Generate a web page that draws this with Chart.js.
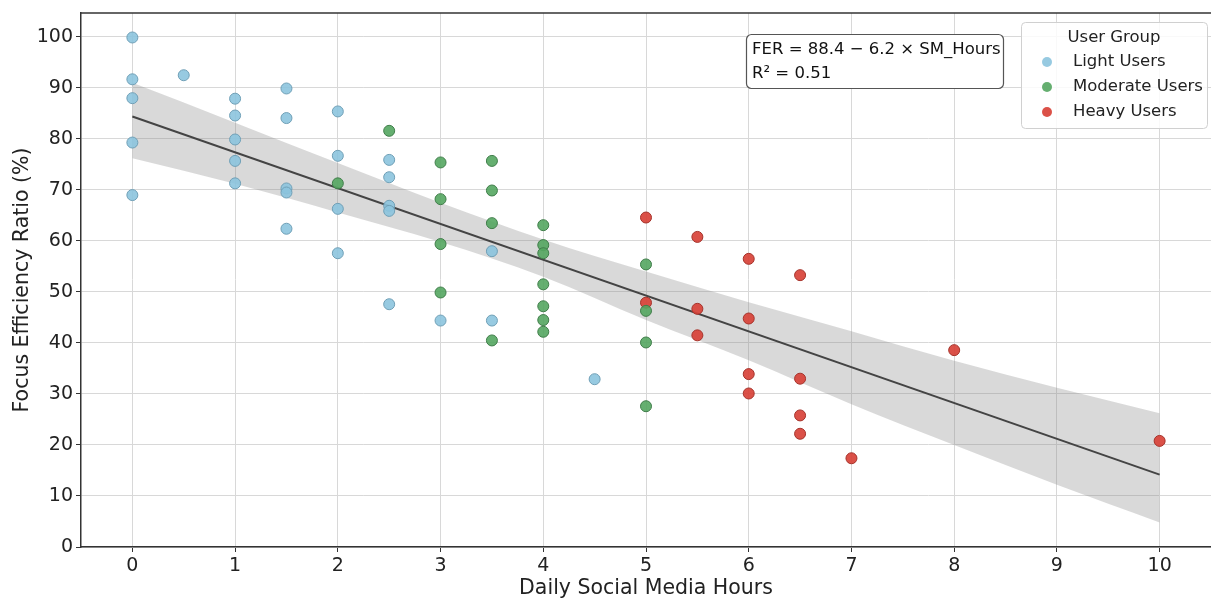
<!DOCTYPE html>
<html>
<head>
<meta charset="utf-8">
<script src="https://cdn.jsdelivr.net/npm/chart.js@4/dist/chart.umd.min.js"></script>
<style>
  html, body { margin: 0; padding: 0; background: #ffffff; }
  #wrap { position: relative; width: 1211px; height: 603px; }
</style>
</head>
<body>
<div id="wrap"><canvas id="chart"></canvas></div>
<script>
// x tick range and labels
const xTicks = [0, 1, 2, 3, 4, 5, 6, 7, 8, 9, 10];
const yTicks = [0, 10, 20, 30, 40, 50, 60, 70, 80, 90, 100];

// Light users
const lightHours = [0, 0, 0, 0, 0, 0.5, 1, 1, 1, 1, 1, 1.5, 1.5, 1.5, 1.5, 1.5, 2, 2, 2, 2, 2.5, 2.5, 2.5, 2.5, 2.5, 3, 3.5, 3.5, 4.5];
const lightFer   = [99.9, 91.7, 88.0, 79.3, 69.0, 92.5, 87.9, 84.6, 79.9, 75.7, 71.3, 89.9, 84.1, 70.3, 69.5, 62.4, 85.4, 76.7, 66.3, 57.6, 75.9, 72.5, 66.9, 65.9, 47.6, 44.4, 58.0, 44.4, 32.9];

// Moderate users
const moderateHours = [2, 2.5, 3, 3, 3, 3, 3.5, 3.5, 3.5, 3.5, 4, 4, 4, 4, 4, 4, 4, 5, 5, 5, 5];
const moderateFer   = [71.3, 81.6, 75.4, 68.2, 59.4, 49.9, 75.7, 69.9, 63.5, 40.5, 63.1, 59.2, 57.6, 51.5, 47.2, 44.5, 42.2, 55.4, 46.3, 40.1, 27.6];

// Heavy users
const heavyHours = [5, 5, 5.5, 5.5, 5.5, 6, 6, 6, 6, 6.5, 6.5, 6.5, 6.5, 7, 8, 10];
const heavyFer   = [64.6, 47.9, 60.8, 46.7, 41.5, 56.5, 44.8, 33.9, 30.1, 53.3, 33.0, 25.8, 22.2, 17.4, 38.6, 20.8];

// fitted line and confidence band
const fitHours = [0, 10];
const fitFer = [84.4, 14.2];
const bandHours = [0, 1, 2, 3, 4, 5, 6, 7, 8, 9, 10];
const bandUpper = [91.0, 83.2, 75.3, 67.5, 60.3, 54.0, 48.0, 42.3, 36.5, 31.2, 26.2];
const bandLower = [76.2, 71.2, 65.6, 59.8, 53.0, 44.5, 36.6, 28.0, 20.0, 12.2, 4.8];

const equationText = 'FER = 88.4 \u2212 6.2 \u00d7 SM_Hours';
const r2Text = 'R\u00b2 = 0.51';
const legendTitle = 'User Group';
const groupNames = ['Light Users', 'Moderate Users', 'Heavy Users'];

const FONT = '"DejaVu Sans", "Liberation Sans", sans-serif';

function pts(xs, ys) {
    return xs.map(function(x, i) { return { x: x, y: ys[i] }; });
}

function roundRect(ctx, x, y, w, h, r) {
    ctx.beginPath();
    ctx.moveTo(x + r, y);
    ctx.lineTo(x + w - r, y);
    ctx.arcTo(x + w, y, x + w, y + r, r);
    ctx.lineTo(x + w, y + h - r);
    ctx.arcTo(x + w, y + h, x + w - r, y + h, r);
    ctx.lineTo(x + r, y + h);
    ctx.arcTo(x, y + h, x, y + h - r, r);
    ctx.lineTo(x, y + r);
    ctx.arcTo(x, y, x + r, y, r);
    ctx.closePath();
}

// top spine, equation box and legend box
const overlayPlugin = {
    id: 'overlay',
    afterDraw: function(chart) {
        const ctx = chart.ctx;
        const area = chart.chartArea;
        ctx.save();

        // top spine
        ctx.strokeStyle = '#333333';
        ctx.lineWidth = 1.5;
        ctx.beginPath();
        ctx.moveTo(area.left, area.top);
        ctx.lineTo(area.right, area.top);
        ctx.stroke();

        // equation box
        roundRect(ctx, 746.5, 34.5, 257, 54, 5);
        ctx.fillStyle = '#ffffff';
        ctx.fill();
        ctx.strokeStyle = '#555555';
        ctx.lineWidth = 1.2;
        ctx.stroke();
        ctx.fillStyle = '#111111';
        ctx.font = '16.5px ' + FONT;
        ctx.textAlign = 'left';
        ctx.textBaseline = 'middle';
        ctx.fillText(equationText, 752, 50);
        ctx.fillText(r2Text, 752, 74);

        // legend box
        roundRect(ctx, 1021.5, 22.5, 186, 106, 4);
        ctx.fillStyle = 'rgba(255,255,255,0.85)';
        ctx.fill();
        ctx.strokeStyle = '#d0d0d0';
        ctx.lineWidth = 1;
        ctx.stroke();
        ctx.fillStyle = '#222222';
        ctx.textAlign = 'center';
        ctx.fillText(legendTitle, 1114, 38);
        ctx.textAlign = 'left';
        chart.data.datasets.forEach(function(ds) {
            if (ds.legendRow === undefined) return;
            const y = 62 + ds.legendRow * 25;
            ctx.beginPath();
            ctx.arc(1047, y, 5, 0, Math.PI * 2);
            ctx.fillStyle = ds.backgroundColor;
            ctx.fill();
            ctx.fillStyle = '#222222';
            ctx.fillText(ds.label, 1073, y);
        });
        ctx.restore();
    }
};

const ctx = document.getElementById('chart').getContext('2d');
new Chart(ctx, {
    type: 'scatter',
    data: {
        datasets: [
            {
                label: groupNames[0],
                legendRow: 0,
                data: pts(lightHours, lightFer),
                backgroundColor: 'rgba(140,196,222,0.9)',
                borderColor: '#6f9fb6',
                borderWidth: 1,
                pointRadius: 5.5,
                order: 0
            },
            {
                label: groupNames[1],
                legendRow: 1,
                data: pts(moderateHours, moderateFer),
                backgroundColor: 'rgba(84,166,96,0.9)',
                borderColor: '#3f7d49',
                borderWidth: 1,
                pointRadius: 5.5,
                order: 0
            },
            {
                label: groupNames[2],
                legendRow: 2,
                data: pts(heavyHours, heavyFer),
                backgroundColor: 'rgba(216,66,56,0.92)',
                borderColor: '#a5322a',
                borderWidth: 1,
                pointRadius: 5.5,
                order: 0
            },
            {
                type: 'line',
                label: 'fit',
                data: pts(fitHours, fitFer),
                borderColor: '#444444',
                borderWidth: 2,
                pointRadius: 0,
                fill: false,
                order: 1
            },
            {
                type: 'line',
                label: 'upper',
                data: pts(bandHours, bandUpper),
                borderWidth: 0,
                borderColor: 'rgba(0,0,0,0)',
                backgroundColor: 'rgba(128,128,128,0.3)',
                pointRadius: 0,
                cubicInterpolationMode: 'monotone',
                fill: '+1',
                order: 2
            },
            {
                type: 'line',
                label: 'lower',
                data: pts(bandHours, bandLower),
                borderWidth: 0,
                borderColor: 'rgba(0,0,0,0)',
                pointRadius: 0,
                cubicInterpolationMode: 'monotone',
                fill: false,
                order: 2
            }
        ]
    },
    options: {
        responsive: true,
        maintainAspectRatio: false,
        animation: false,
        events: [],
        layout: { autoPadding: false, padding: { top: 13, right: 0, left: 0, bottom: 0 } },
        plugins: {
            legend: { display: false },
            tooltip: { enabled: false }
        },
        scales: {
            x: {
                type: 'linear',
                min: -0.5,
                max: 10.5,
                afterFit: function(scale) {
                    scale.height = 56;
                    scale.paddingLeft = 0;
                    scale.paddingRight = 0;
                },
                afterBuildTicks: function(scale) {
                    scale.ticks = xTicks.map(function(v) { return { value: v }; });
                },
                ticks: {
                    color: '#222222',
                    font: { family: FONT, size: 19 },
                    padding: 3,
                    maxRotation: 0
                },
                grid: {
                    color: '#d8d8d8',
                    lineWidth: 1,
                    tickLength: 5,
                    tickColor: '#333333'
                },
                border: { display: true, color: '#333333', width: 1.5 },
                title: {
                    display: true,
                    text: 'Daily Social Media Hours',
                    color: '#222222',
                    font: { family: FONT, size: 20.5 },
                    padding: { top: 0, bottom: 2 }
                }
            },
            y: {
                min: 0,
                max: 104.7,
                afterFit: function(scale) {
                    scale.width = 81;
                    scale.paddingTop = 0;
                    scale.paddingBottom = 0;
                },
                afterBuildTicks: function(scale) {
                    scale.ticks = yTicks.map(function(v) { return { value: v }; });
                },
                ticks: {
                    color: '#222222',
                    font: { family: FONT, size: 19 },
                    padding: 3
                },
                grid: {
                    color: '#d8d8d8',
                    lineWidth: 1,
                    tickLength: 5,
                    tickColor: '#333333'
                },
                border: { display: true, color: '#333333', width: 1.5 },
                title: {
                    display: true,
                    text: 'Focus Efficiency Ratio (%)',
                    color: '#222222',
                    font: { family: FONT, size: 20.5 },
                    padding: { top: 10, bottom: 0 }
                }
            }
        }
    },
    plugins: [overlayPlugin]
});
</script>
</body>
</html>
